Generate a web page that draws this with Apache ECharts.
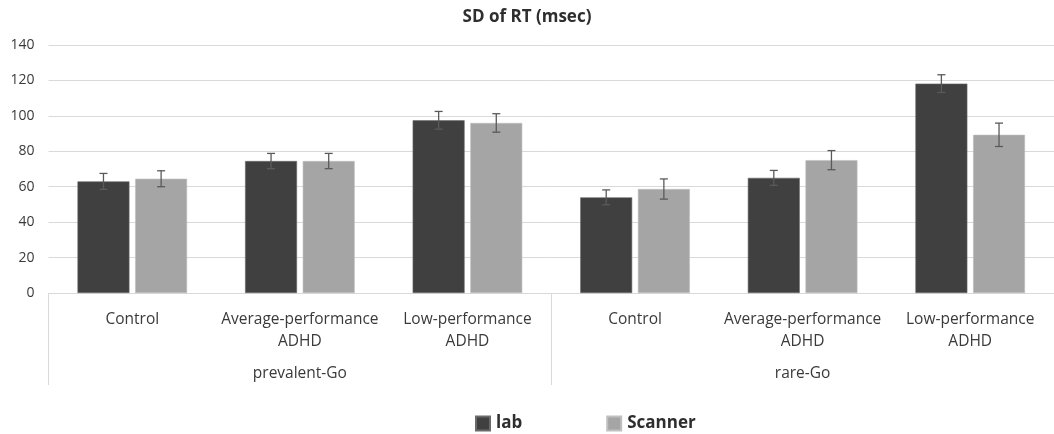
<!DOCTYPE html>
<html>
<head>
<meta charset="utf-8">
<script src="https://cdn.jsdelivr.net/npm/echarts@6/dist/echarts.min.js"></script>
<style>html,body{margin:0;padding:0;background:#fff}#c{width:1054px;height:434px}</style>
</head>
<body>
<div id="c"></div>
<script>
const categories = ['Control', 'Average-performance\nADHD', 'Low-performance\nADHD', 'Control', 'Average-performance\nADHD', 'Low-performance\nADHD'];
const groups = ['prevalent-Go', 'rare-Go'];
const seriesNames = ['lab', 'Scanner'];
const labValues = [63, 74.5, 97.5, 54, 65, 118.2];
const scannerValues = [64.5, 74.5, 96, 58.7, 75, 89.3];
const labErr = [4.5, 4.3, 5, 4.2, 4.2, 5];
const scannerErr = [4.5, 4.3, 5.2, 5.7, 5.4, 6.6];
const yTicks = [0, 20, 40, 60, 80, 100, 120, 140];

const FONT = "'Open Sans', sans-serif";
const chart = echarts.init(document.getElementById('c'));

const BAR_W = 0.31, GAP = 0.034;
function errSeries(vals, errs, sign) {
  return {
    type: 'custom',
    xAxisIndex: 0, yAxisIndex: 0,
    silent: true,
    z: 5,
    data: vals.map((v, i) => [i, v - errs[i], v + errs[i]]),
    renderItem: function (params, api) {
      const cw = api.size([1, 0])[0];
      const off = sign * (BAR_W + GAP) / 2 * cw;
      const lo = api.coord([api.value(0), api.value(1)]);
      const hi = api.coord([api.value(0), api.value(2)]);
      const x = lo[0] + off;
      const cap = 4;
      const st = { stroke: '#5a5a5a', lineWidth: 1.3 };
      return {
        type: 'group',
        children: [
          { type: 'line', shape: { x1: x, y1: lo[1], x2: x, y2: hi[1] }, style: st },
          { type: 'line', shape: { x1: x - cap, y1: lo[1], x2: x + cap, y2: lo[1] }, style: st },
          { type: 'line', shape: { x1: x - cap, y1: hi[1], x2: x + cap, y2: hi[1] }, style: st }
        ]
      };
    }
  };
}

chart.setOption({
  animation: false,
  backgroundColor: '#fff',
  title: {
    text: 'SD of RT (msec)',
    left: 'center', top: 4,
    textStyle: { fontFamily: FONT, fontSize: 17, fontWeight: 'bold', color: '#2e2e2e' }
  },
  legend: {
    top: 410, left: 470,
    itemWidth: 14, itemHeight: 14, itemGap: 84,
    icon: 'rect',
    data: seriesNames,
    textStyle: { fontFamily: FONT, fontSize: 17, fontWeight: 'bold', color: '#2e2e2e', padding: [0, 0, 0, 1] }
  },
  grid: { left: 48.5, top: 45, width: 1014, height: 248, containLabel: false },
  xAxis: [
    {
      type: 'category', data: categories, position: 'bottom',
      axisLine: { show: true, lineStyle: { color: '#d9d9d9' } },
      axisTick: { show: false },
      axisLabel: { interval: 0, margin: 16, lineHeight: 22, fontFamily: FONT, fontSize: 15.5, color: '#3a3a3a' }
    },
    {
      type: 'category', data: groups, position: 'bottom', gridIndex: 0,
      axisLine: { show: false },
      axisTick: { show: true, length: 92, lineStyle: { color: '#d9d9d9' } },
      axisLabel: { interval: 0, margin: 73, fontFamily: FONT, fontSize: 15.5, color: '#3a3a3a' }
    }
  ],
  yAxis: {
    type: 'value', min: 0, max: 140, interval: 20,
    axisLine: { show: false }, axisTick: { show: false },
    splitLine: { lineStyle: { color: '#d9d9d9', width: 1 } },
    axisLabel: {
      margin: 14, fontFamily: FONT, fontSize: 14, color: '#3a3a3a',
      formatter: v => yTicks.includes(v) ? String(v) : ''
    }
  },
  series: [
    {
      name: seriesNames[0], type: 'bar', data: labValues,
      barWidth: '31%', barGap: '11%',
      itemStyle: { color: '#404040', borderColor: '#6a6a6a', borderWidth: 0.6 }
    },
    {
      name: seriesNames[1], type: 'bar', data: scannerValues,
      barWidth: '31%', barGap: '11%',
      itemStyle: { color: '#a5a5a5', borderColor: '#c0c0c0', borderWidth: 0.6 }
    },
    errSeries(labValues, labErr, -1),
    errSeries(scannerValues, scannerErr, 1)
  ]
});
</script>
</body>
</html>
